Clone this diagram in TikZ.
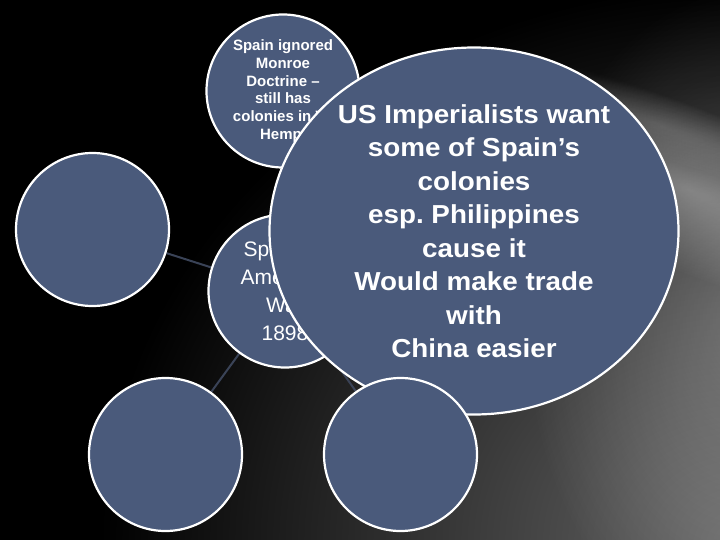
\documentclass[tikz,border=0pt]{standalone}
\usepackage{fontspec}
\setmainfont{Liberation Sans}
\newfontfamily\widefont[FakeStretch=1.07]{Liberation Sans}
\usetikzlibrary{shapes.geometric}
\definecolor{bubble}{HTML}{4A5A7B}
\definecolor{spokecol}{HTML}{3A4357}
\pgfdeclarelayer{bg}
\pgfsetlayers{bg,main}
\frenchspacing
\tikzset{
  bub/.style={circle, draw=white, line width=2.2pt, fill=bubble, minimum size=153pt,
    inner sep=0pt, text=white, align=center},
  bigbub/.style={ellipse, draw=white, line width=2.2pt, fill=bubble, minimum width=409pt,
    minimum height=367pt, inner sep=0pt, text=white, align=center},
  spoke/.style={draw=spokecol, line width=2pt},
  glow/.style={inner color=#1, outer color=black}
}
\begin{document}
\begin{tikzpicture}[x=1pt,y=-1pt]
\useasboundingbox (0,0) rectangle (720,540);
% nodes
\node[bub] (lft) at (92.5,229.5) {};
\node[bub] (bl) at (165.5,454.5) {};
\node[bub, font=\bfseries\fontsize{15}{17.7}\selectfont] (top) at (283,91)
  {Spain ignored\\Monroe\\Doctrine –\\still has\\colonies in W.\\Hemp.};
\node[bub, font=\fontsize{21}{28}\selectfont] (hub) at (285,291)
  {Spanish-\\American\\War\\1898};
\node[bigbub, font=\widefont\bfseries\fontsize{26}{33.5}\selectfont] (big) at (474,231)
  {US Imperialists want\\some of Spain’s\\colonies\\esp.\ Philippines\\cause it\\Would make trade\\with\\China easier};
\node[bub] (br) at (400.5,454.5) {};
\begin{pgfonlayer}{bg}
  \fill[black] (0,0) rectangle (720,540);
  \begin{scope}[blend group=screen]
    \clip (0,0) rectangle (720,540);
    \shade[glow={black!60}] (740,545) ellipse (640 and 560);
    \shade[glow={black!74}] (745,320) ellipse (220 and 330);
    \begin{scope}[transform canvas={rotate around={-22:(690,190)}}]
      \shade[glow={black!66}] (690,190) ellipse (280 and 80);
    \end{scope}
    \begin{scope}[transform canvas={rotate around={-20:(660,125)}}]
      \shade[glow={black!86}] (660,125) ellipse (200 and 30);
    \end{scope}
  \end{scope}
  \draw[spoke] (hub) -- (lft);
  \draw[spoke] (hub) -- (bl);
  \draw[spoke] (hub) -- (br);
  \draw[spoke] (hub) -- (top);
  \draw[spoke] (hub) -- (big);
\end{pgfonlayer}
\end{tikzpicture}
\end{document}
